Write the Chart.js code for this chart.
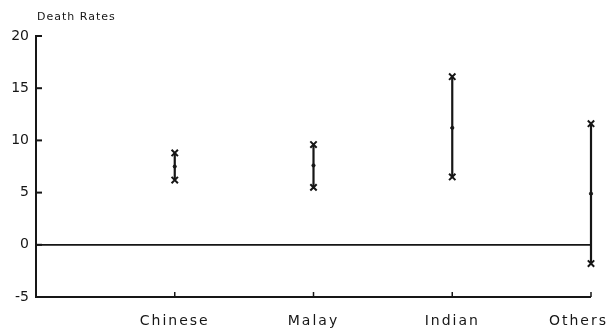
<!DOCTYPE html>
<html>
<head>
<meta charset="utf-8">
<script src="https://cdn.jsdelivr.net/npm/chart.js@4.4.0/dist/chart.umd.min.js"></script>
<style>
  html, body { margin: 0; padding: 0; background: #fff; }
  #wrap { width: 609px; height: 329px; }
</style>
</head>
<body>
<div id="wrap"><canvas id="deathChart" width="609" height="329"></canvas></div>
<script>
// values
const categories = ['Chinese', 'Malay', 'Indian', 'Others'];
const highRates = [8.8, 9.6, 16.1, 11.6];
const lowRates = [6.2, 5.5, 6.5, -1.8];
const midRates = [7.5, 7.6, 11.2, 4.9];
const yTicks = [-5, 0, 5, 10, 15, 20];

const ink = '#161616';

// one dataset per error bar, low -> high
const barSets = categories.map((c, i) => ({
    label: c,
    data: [{ x: i + 1, y: lowRates[i] }, { x: i + 1, y: highRates[i] }],
    showLine: true,
    clip: false,
    borderColor: ink,
    borderWidth: 2.2,
    pointStyle: 'crossRot',
    pointRadius: 4.5,
    pointBorderWidth: 2,
    pointBorderColor: ink,
}));

const midSet = {
    label: 'mid',
    data: categories.map((c, i) => ({ x: i + 1, y: midRates[i] })),
    showLine: false,
    clip: false,
    pointStyle: 'circle',
    pointRadius: 1.6,
    pointBackgroundColor: ink,
    pointBorderColor: ink,
};

const zeroSet = {
    label: 'zero',
    data: [{ x: 0, y: 0 }, { x: categories.length, y: 0 }],
    showLine: true,
    borderColor: ink,
    borderWidth: 1.8,
    pointRadius: 0,
};

// inside ticks, bottom line, category names and the y title
const framePlugin = {
    id: 'frame',
    afterDatasetsDraw(chart) {
        const { ctx, chartArea, scales } = chart;
        const xs = scales.x, ys = scales.y;
        ctx.save();
        ctx.strokeStyle = ink;
        ctx.lineWidth = 2;
        // y ticks pointing right
        yTicks.forEach(v => {
            const y = ys.getPixelForValue(v);
            ctx.beginPath();
            ctx.moveTo(chartArea.left, y);
            ctx.lineTo(chartArea.left + 6, y);
            ctx.stroke();
        });
        // bottom line at -5
        const yb = ys.getPixelForValue(-5);
        ctx.beginPath();
        ctx.moveTo(chartArea.left, yb);
        ctx.lineTo(xs.getPixelForValue(categories.length), yb);
        ctx.stroke();
        ctx.lineWidth = 1.5;
        categories.forEach((c, i) => {
            const x = xs.getPixelForValue(i + 1);
            ctx.beginPath();
            ctx.moveTo(x, yb);
            ctx.lineTo(x, yb - 5);
            ctx.stroke();
        });

        ctx.fillStyle = ink;
        ctx.textBaseline = 'middle';
        ctx.textAlign = 'center';
        ctx.font = '14px "DejaVu Sans"';
        ctx.letterSpacing = '2px';
        categories.forEach((c, i) => {
            let x = xs.getPixelForValue(i + 1);
            const w = ctx.measureText(c).width;
            x = Math.min(x, chart.width - 1 - w / 2);
            ctx.fillText(c, x, 321);
        });

        ctx.textAlign = 'left';
        ctx.font = '11px "DejaVu Sans"';
        ctx.letterSpacing = '1px';
        ctx.fillText('Death Rates', chartArea.left + 1, 17);
        ctx.restore();
    }
};

new Chart(document.getElementById('deathChart'), {
    type: 'scatter',
    data: { datasets: [zeroSet, ...barSets, midSet] },
    options: {
        responsive: false,
        animation: false,
        events: [],
        layout: { padding: { left: 0, right: 18, top: 36, bottom: 32 } },
        scales: {
            x: { type: 'linear', min: 0, max: categories.length, display: false },
            y: {
                type: 'linear', min: -5, max: 20,
                afterFit: s => { s.width = 36; },
                afterBuildTicks: s => { s.ticks = yTicks.map(v => ({ value: v })); },
                grid: { display: false, drawTicks: false },
                border: { display: true, color: ink, width: 2 },
                ticks: { padding: 7, color: ink, font: { family: 'DejaVu Sans', size: 14 } }
            }
        },
        plugins: {
            legend: { display: false },
            tooltip: { enabled: false }
        }
    },
    plugins: [framePlugin]
});
</script>
</body>
</html>
